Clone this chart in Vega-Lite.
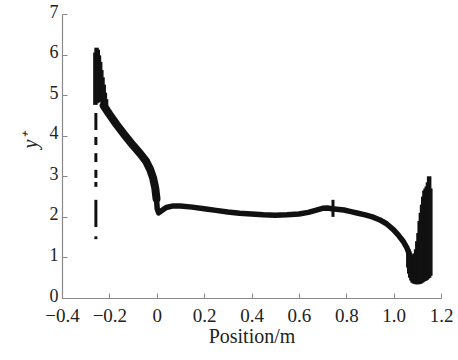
{
  "$schema": "https://vega.github.io/schema/vega-lite/v6.json",
  "autosize": {"type": "none"},
  "width": 379,
  "height": 284,
  "padding": {"left": 62, "top": 14, "right": 17, "bottom": 62},
  "background": "white",
  "config": {
    "view": {"stroke": null},
    "font": "Liberation Serif",
    "axis": {
      "domainColor": "#8a8a8a",
      "domainWidth": 1.2,
      "tickColor": "#8a8a8a",
      "tickSize": -5,
      "labelFont": "Liberation Serif",
      "labelFontSize": 19,
      "labelColor": "#222",
      "labelOverlap": false,
      "labelBound": false,
      "labelFlush": false,
      "titleFont": "Liberation Serif",
      "titleFontSize": 20,
      "titleFontWeight": "normal",
      "titleColor": "#222",
      "grid": false
    }
  },
  "datasets": {
    "lines": [
      {"s": "slope", "i": 1, "x": -0.224, "y": 4.74},
      {"s": "slope", "i": 2, "x": -0.2, "y": 4.53},
      {"s": "slope", "i": 3, "x": -0.17, "y": 4.28},
      {"s": "slope", "i": 4, "x": -0.14, "y": 4.05},
      {"s": "slope", "i": 5, "x": -0.1, "y": 3.76},
      {"s": "slope", "i": 6, "x": -0.07, "y": 3.56},
      {"s": "slope", "i": 7, "x": -0.045, "y": 3.37},
      {"s": "slope", "i": 8, "x": -0.028, "y": 3.17},
      {"s": "slope", "i": 9, "x": -0.015, "y": 2.95},
      {"s": "slope", "i": 10, "x": -0.006, "y": 2.7},
      {"s": "slope", "i": 11, "x": -0.001, "y": 2.45},
      {"s": "main", "i": 1, "x": -0.006, "y": 2.8},
      {"s": "main", "i": 2, "x": -0.002, "y": 2.5},
      {"s": "main", "i": 3, "x": 0.002, "y": 2.2},
      {"s": "main", "i": 4, "x": 0.008, "y": 2.1},
      {"s": "main", "i": 5, "x": 0.02, "y": 2.15},
      {"s": "main", "i": 6, "x": 0.04, "y": 2.23},
      {"s": "main", "i": 7, "x": 0.07, "y": 2.27},
      {"s": "main", "i": 8, "x": 0.1, "y": 2.27},
      {"s": "main", "i": 9, "x": 0.15, "y": 2.24},
      {"s": "main", "i": 10, "x": 0.2, "y": 2.2},
      {"s": "main", "i": 11, "x": 0.25, "y": 2.16},
      {"s": "main", "i": 12, "x": 0.3, "y": 2.12},
      {"s": "main", "i": 13, "x": 0.35, "y": 2.09},
      {"s": "main", "i": 14, "x": 0.4, "y": 2.07},
      {"s": "main", "i": 15, "x": 0.45, "y": 2.05},
      {"s": "main", "i": 16, "x": 0.5, "y": 2.04},
      {"s": "main", "i": 17, "x": 0.55, "y": 2.05},
      {"s": "main", "i": 18, "x": 0.6, "y": 2.07},
      {"s": "main", "i": 19, "x": 0.64, "y": 2.11},
      {"s": "main", "i": 20, "x": 0.67, "y": 2.16},
      {"s": "main", "i": 21, "x": 0.7, "y": 2.21},
      {"s": "main", "i": 22, "x": 0.72, "y": 2.22},
      {"s": "main", "i": 23, "x": 0.74, "y": 2.2},
      {"s": "main", "i": 24, "x": 0.76, "y": 2.19},
      {"s": "main", "i": 25, "x": 0.79, "y": 2.17},
      {"s": "main", "i": 26, "x": 0.82, "y": 2.13},
      {"s": "main", "i": 27, "x": 0.85, "y": 2.09},
      {"s": "main", "i": 28, "x": 0.88, "y": 2.05},
      {"s": "main", "i": 29, "x": 0.91, "y": 2.0},
      {"s": "main", "i": 30, "x": 0.94, "y": 1.93},
      {"s": "main", "i": 31, "x": 0.97, "y": 1.83},
      {"s": "main", "i": 32, "x": 1.0, "y": 1.68},
      {"s": "main", "i": 33, "x": 1.02, "y": 1.55},
      {"s": "main", "i": 34, "x": 1.04, "y": 1.4},
      {"s": "main", "i": 35, "x": 1.055, "y": 1.25},
      {"s": "main", "i": 36, "x": 1.065, "y": 1.1},
      {"s": "main", "i": 37, "x": 1.075, "y": 0.85}
    ],
    "rules": [
      {"g": "thin", "x": -0.257, "y": 4.56, "y2": 4.14},
      {"g": "thin", "x": -0.257, "y": 3.97, "y2": 3.77},
      {"g": "thin", "x": -0.257, "y": 3.57, "y2": 3.35},
      {"g": "thin", "x": -0.257, "y": 3.16, "y2": 2.96},
      {"g": "thin", "x": -0.257, "y": 2.86, "y2": 2.74},
      {"g": "thin", "x": -0.257, "y": 2.42, "y2": 1.75},
      {"g": "thin", "x": -0.257, "y": 1.52, "y2": 1.45},
      {"g": "thin", "x": 0.744, "y": 2.0, "y2": 2.42},
      {"g": "thick", "x": -0.259, "y": 4.76, "y2": 6.05},
      {"g": "thick", "x": -0.254, "y": 4.8, "y2": 6.17},
      {"g": "thick", "x": -0.249, "y": 4.82, "y2": 6.12},
      {"g": "thick", "x": -0.244, "y": 4.85, "y2": 5.98},
      {"g": "thick", "x": -0.239, "y": 4.85, "y2": 5.82},
      {"g": "thick", "x": -0.234, "y": 4.85, "y2": 5.62},
      {"g": "thick", "x": -0.229, "y": 4.8, "y2": 5.44},
      {"g": "thick", "x": -0.224, "y": 4.7, "y2": 5.26},
      {"g": "thick", "x": -0.219, "y": 4.62, "y2": 5.06},
      {"g": "thick", "x": -0.214, "y": 4.6, "y2": 4.9},
      {"g": "thick", "x": 1.062, "y": 0.75, "y2": 1.2},
      {"g": "thick", "x": 1.066, "y": 0.6, "y2": 1.15},
      {"g": "thick", "x": 1.07, "y": 0.5, "y2": 1.1},
      {"g": "thick", "x": 1.075, "y": 0.43, "y2": 1.07},
      {"g": "thick", "x": 1.08, "y": 0.38, "y2": 1.05},
      {"g": "thick", "x": 1.085, "y": 0.36, "y2": 1.06},
      {"g": "thick", "x": 1.09, "y": 0.35, "y2": 1.1},
      {"g": "thick", "x": 1.095, "y": 0.34, "y2": 1.2},
      {"g": "thick", "x": 1.1, "y": 0.34, "y2": 1.4},
      {"g": "thick", "x": 1.105, "y": 0.34, "y2": 1.6},
      {"g": "thick", "x": 1.11, "y": 0.35, "y2": 1.9},
      {"g": "thick", "x": 1.115, "y": 0.36, "y2": 2.1},
      {"g": "thick", "x": 1.12, "y": 0.38, "y2": 2.3},
      {"g": "thick", "x": 1.125, "y": 0.4, "y2": 2.5},
      {"g": "thick", "x": 1.13, "y": 0.42, "y2": 2.65},
      {"g": "thick", "x": 1.135, "y": 0.43, "y2": 2.7},
      {"g": "thick", "x": 1.14, "y": 0.45, "y2": 2.75},
      {"g": "thick", "x": 1.145, "y": 0.48, "y2": 2.85},
      {"g": "thick", "x": 1.15, "y": 0.5, "y2": 3.0},
      {"g": "thick", "x": 1.155, "y": 0.55, "y2": 2.7}
    ]
  },
  "encoding": {
    "x": {
      "field": "x",
      "type": "quantitative",
      "scale": {"domain": [-0.4, 1.2], "nice": false, "zero": false},
      "axis": {
        "title": "Position/m",
        "values": [-0.4, -0.2, 0, 0.2, 0.4, 0.6, 0.8, 1.0, 1.2],
        "labelExpr": "datum.value === 0 ? '0' : format(datum.value, '.1f')",
        "labelPadding": 13,
        "titlePadding": 1
      }
    },
    "y": {
      "field": "y",
      "type": "quantitative",
      "scale": {"domain": [0, 7], "nice": false},
      "axis": {
        "title": "y⁺",
        "titleFontStyle": "italic",
        "values": [0, 1, 2, 3, 4, 5, 6, 7],
        "format": "d",
        "labelFontSize": 18,
        "labelPadding": 9,
        "labelOffset": -2,
        "titleAngle": -90,
        "titleX": -32,
        "titleY": 126,
        "titleAlign": "center",
        "titleBaseline": "middle"
      }
    }
  },
  "layer": [
    {
      "data": {"name": "lines"},
      "transform": [{"filter": "datum.s === 'slope'"}],
      "mark": {"type": "line", "color": "#111", "strokeWidth": 8, "strokeCap": "round", "strokeJoin": "round"},
      "encoding": {"order": {"field": "i", "type": "quantitative"}}
    },
    {
      "data": {"name": "lines"},
      "transform": [{"filter": "datum.s === 'main'"}],
      "mark": {"type": "line", "color": "#111", "strokeWidth": 5.5, "strokeCap": "round", "strokeJoin": "round"},
      "encoding": {"order": {"field": "i", "type": "quantitative"}}
    },
    {
      "data": {"name": "rules"},
      "transform": [{"filter": "datum.g === 'thin'"}],
      "mark": {"type": "rule", "color": "#111", "strokeWidth": 3},
      "encoding": {"y2": {"field": "y2"}}
    },
    {
      "data": {"name": "rules"},
      "transform": [{"filter": "datum.g === 'thick'"}],
      "mark": {"type": "rule", "color": "#111", "strokeWidth": 4.5},
      "encoding": {"y2": {"field": "y2"}}
    }
  ]
}
